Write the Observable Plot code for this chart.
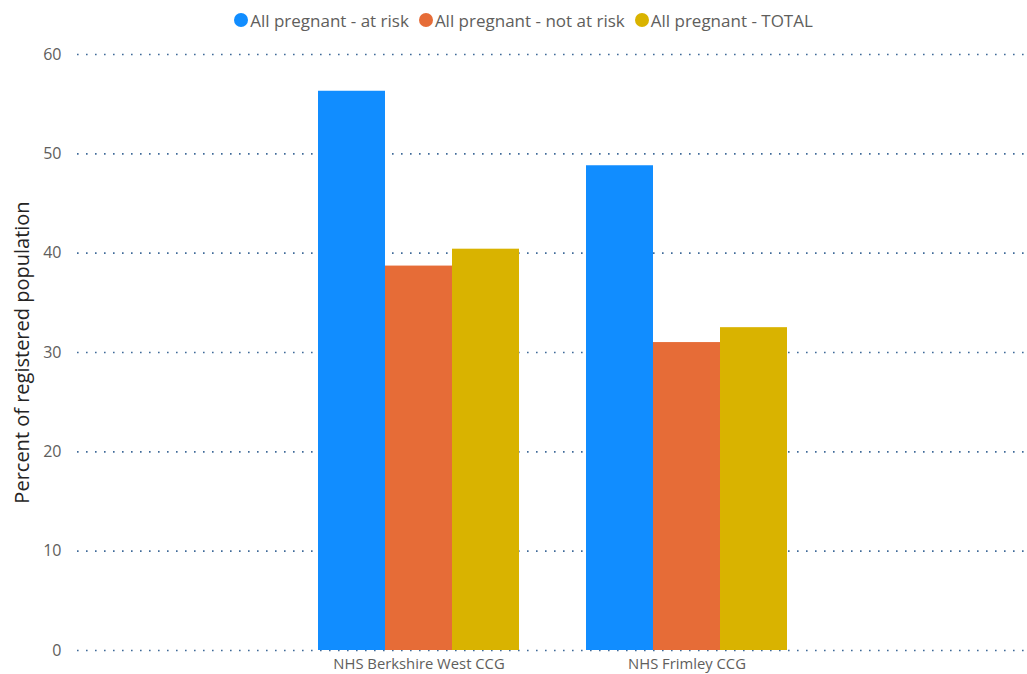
<!DOCTYPE html>
<html>
<head>
<meta charset="utf-8">
<script src="https://cdn.jsdelivr.net/npm/d3@7"></script>
<script src="https://cdn.jsdelivr.net/npm/@observablehq/plot@0.6"></script>
<style>
  html, body { margin: 0; padding: 0; background: #fff; }
  #wrap { width: 1027px; height: 674px; position: relative; overflow: hidden; font-family: "Open Sans", sans-serif; }
  #legend { height: 40px; display: flex; align-items: center; justify-content: center; padding-left: 20px; box-sizing: border-box; font-size: 17px; color: #605e5c; }
  .item { display: flex; align-items: center; margin: 0 5px; }
  .dot { width: 14px; height: 14px; border-radius: 50%; margin-right: 2px; }
  svg { display: block; }
</style>
</head>
<body>
<div id="wrap">
  <div id="legend"></div>
  <div id="chart"></div>
</div>
<script>
const categories = ["NHS Berkshire West CCG", "NHS Frimley CCG"];
const seriesNames = ["All pregnant - at risk", "All pregnant - not at risk", "All pregnant - TOTAL"];
const atRisk = [56.3, 48.8];
const notAtRisk = [38.7, 31.0];
const total = [40.4, 32.5];
const colors = ["#118DFF", "#E66C37", "#D9B300"];
const yTicks = [0, 10, 20, 30, 40, 50, 60];
const yTitle = "Percent of registered population";

const seriesValues = [atRisk, notAtRisk, total];
const rows = [];
categories.forEach((c, ci) => {
  seriesNames.forEach((s, si) => {
    rows.push({category: c, series: s, value: seriesValues[si][ci], key: c + "|" + s});
  });
});

// x band domain: three bars per category with a one-bar spacer between groups
const xDomain = [];
categories.forEach((c, ci) => {
  if (ci > 0) xDomain.push("gap" + ci);
  seriesNames.forEach(s => xDomain.push(c + "|" + s));
});
const midKeys = categories.map(c => c + "|" + seriesNames[1]);

// legend
const legend = document.getElementById("legend");
seriesNames.forEach((s, i) => {
  const it = document.createElement("div");
  it.className = "item";
  const d = document.createElement("span");
  d.className = "dot";
  d.style.background = colors[i];
  const t = document.createElement("span");
  t.textContent = s;
  it.appendChild(d); it.appendChild(t);
  legend.appendChild(it);
});

const chart = Plot.plot({
  width: 1027,
  height: 634,
  marginTop: 14,
  marginBottom: 24,
  marginLeft: 77,
  marginRight: 0,
  style: {fontFamily: "'Open Sans', sans-serif", background: "#fff"},
  x: {domain: xDomain, range: [317.5, 788], padding: 0, axis: null},
  y: {domain: [0, 60], axis: null},
  color: {domain: seriesNames, range: colors},
  marks: [
    Plot.ruleY(yTicks, {stroke: "#3f6a98", strokeWidth: 1.6, strokeDasharray: "1.6 7.4"}),
    Plot.barY(rows, {x: "key", y: "value", fill: "series", inset: 0}),
    Plot.axisY(yTicks, {tickSize: 0, tickPadding: 16, fontSize: 16, fill: "#605e5c", label: null}),
    Plot.axisX(midKeys, {tickSize: 0, tickPadding: 8, fontSize: 14.8, fill: "#605e5c", label: null,
      tickFormat: k => k.split("|")[0]}),
    Plot.text([yTitle], {frameAnchor: "left", textAnchor: "middle", dx: -55, rotate: -90, text: d => d, fontSize: 20, fill: "#252423"})
  ]
});
document.getElementById("chart").appendChild(chart);
</script>
</body>
</html>
